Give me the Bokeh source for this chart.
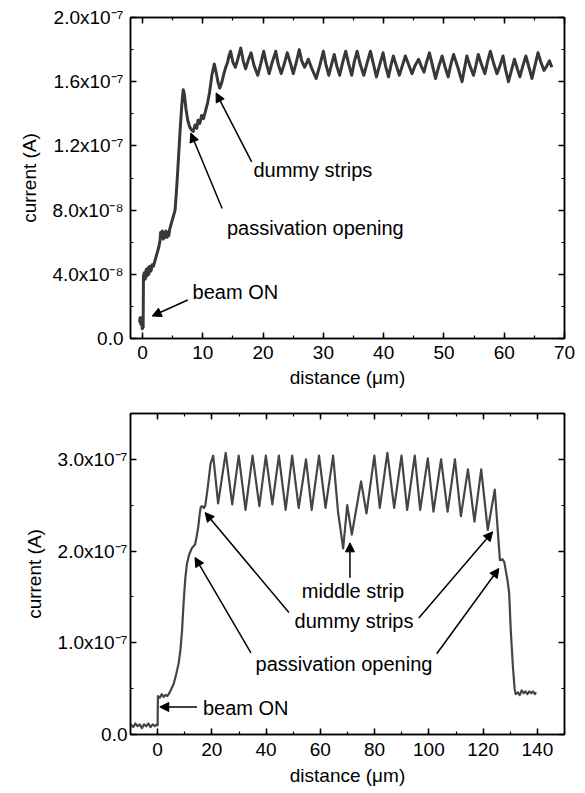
import numpy as np
from bokeh.plotting import figure
from bokeh.models import (Range1d, FixedTicker, LinearAxis, CustomJSTickFormatter,
                          Label, Arrow, NormalHead, ColumnDataSource)
from bokeh.layouts import column
from bokeh.embed import file_html
from bokeh.resources import INLINE

FONT = "Liberation Sans"

# ---------------- data (current in units of 1e-8 A) ----------------
top_x = [-0.5, -0.4, -0.3, -0.2, -0.1, -0.05, 0.1, 0.15, 0.3, 0.45, 0.6, 0.75, 0.9, 1.05, 1.2, 1.4,
         1.6, 1.8, 2.1, 2.4, 2.7, 2.9, 3.0, 3.15, 3.3, 3.45, 3.6, 3.75, 3.9, 4.05, 4.2, 4.35, 4.5,
         4.8, 5.1, 5.4, 5.7, 6.0, 6.2, 6.5, 6.75, 6.95, 7.2, 7.5, 7.8, 8.1, 8.4, 8.7, 9.0, 9.2,
         9.5, 9.8, 10.1, 10.4, 10.8, 11.1, 11.5, 11.9, 12.2, 12.5, 12.8, 13.1, 13.5, 13.8, 14.1,
         14.4, 14.6, 15.0, 15.4, 15.8, 16.3, 16.7, 17.1, 17.5, 18.0, 18.5, 19.1, 19.6, 20.1, 20.5,
         21.0, 21.5, 22.1, 22.5, 23.0, 23.5, 24.0, 24.5, 25.0, 25.5, 26.0, 26.4, 26.9, 27.5, 28.1,
         28.8, 29.4, 30.0, 30.4, 30.9, 31.3, 31.8, 32.2, 32.7, 33.2, 33.7, 34.2, 34.7, 35.1, 35.6,
         36.1, 36.7, 37.2, 37.8, 38.3, 38.8, 39.3, 39.9, 40.3, 40.8, 41.2, 41.6, 42.1, 42.6, 43.1,
         43.6, 44.1, 44.7, 45.2, 45.8, 46.2, 46.7, 47.1, 47.6, 48.1, 48.6, 49.1, 49.7, 50.2, 50.7,
         51.1, 51.6, 52.3, 53.0, 53.4, 53.8, 54.3, 54.9, 55.3, 55.7, 56.2, 56.8, 57.2, 57.7, 58.2,
         58.8, 59.3, 59.8, 60.2, 60.7, 61.2, 61.7, 62.1, 62.6, 63.1, 63.6, 64.1, 64.6, 65.1, 65.6,
         66.1, 66.6, 67.1, 67.5, 67.9]
top_i = [1.0, 1.3, 0.9, 1.3, 1.0, 0.6, 0.7, 3.9, 4.1, 3.7, 4.3, 3.9, 4.4, 4.0, 4.5, 4.2,
         4.6, 4.5, 4.9, 5.3, 5.7, 6.1, 6.6, 6.3, 6.7, 6.2, 6.6, 6.3, 6.7, 6.3, 6.6, 6.4, 6.8,
         7.2, 7.6, 8.0, 9.6, 11.5, 12.8, 14.5, 15.5, 15.2, 14.3, 13.6, 13.2, 13.0, 12.9, 13.3, 13.1, 13.6,
         13.4, 13.9, 13.7, 14.1, 14.7, 15.3, 16.4, 17.1, 16.6, 16.0, 15.6, 15.9, 16.5, 16.9, 17.2,
         17.7, 17.9, 17.2, 16.9, 17.4, 18.1, 17.3, 16.8, 17.3, 17.8, 17.0, 16.4, 17.1, 17.9, 17.2,
         16.5, 17.2, 17.9, 17.1, 16.5, 17.1, 17.8, 17.2, 16.5, 17.2, 18.0, 17.3, 16.9, 17.4, 16.8,
         16.2, 17.0, 17.9, 17.1, 16.4, 17.0, 17.7, 17.0, 16.4, 17.2, 17.9, 17.1, 16.4, 17.2, 17.9,
         17.1, 16.4, 17.1, 17.9, 17.1, 16.3, 17.0, 17.8, 17.0, 16.3, 17.0, 17.6, 17.0, 16.4, 17.0,
         17.6, 17.1, 16.5, 17.0, 17.4, 17.0, 16.6, 17.2, 17.8, 17.0, 16.2, 16.9, 17.6, 16.9, 16.3,
         17.0, 17.7, 16.9, 16.0, 16.8, 17.6, 17.0, 16.4, 17.0, 17.7, 17.1, 16.5, 17.2, 17.9, 17.2,
         16.5, 17.0, 17.6, 16.8, 16.0, 16.7, 17.4, 16.9, 16.3, 17.0, 17.6, 16.9, 16.2, 17.0, 17.8,
         17.2, 16.7, 17.0, 17.3, 16.9]

bot_x = [-9.8, -9.0, -8.2, -7.4, -6.6, -5.8, -5.0, -4.2, -3.4, -2.6, -1.8, -1.0, -0.3, 0.0, 0.1,
         0.8, 1.5, 2.2, 2.9, 3.6, 4.3, 5.1, 5.9, 6.8, 7.7, 8.4, 9.0, 9.6, 10.2, 10.8, 11.6, 12.6,
         13.4, 13.8, 14.4, 15.0, 15.5, 15.9, 16.4, 17.1, 17.6, 18.5, 19.5, 20.5,
         22.3, 25.1, 27.5, 29.9, 32.4, 35.0, 37.5, 39.9, 42.3, 44.7, 47.2, 49.6, 52.0, 54.7, 56.8,
         59.5, 61.9, 64.7, 66.5, 68.4, 69.9, 71.6, 75.0, 77.0, 79.9, 81.9, 84.7, 87.2, 89.9, 92.0,
         94.8, 96.8, 99.6, 101.7, 104.5, 106.9, 109.6, 111.8, 114.4, 116.8, 119.3, 121.7, 124.3,
         126.2, 127.2, 127.8, 129.0, 129.6, 130.2, 131.0, 131.6, 132.0, 132.8, 133.5, 134.2, 134.9,
         135.6, 136.3, 137.0, 137.7, 138.4, 139.1, 139.5]
bot_i = [1.1, 0.8, 1.2, 0.9, 1.1, 0.7, 1.1, 0.9, 1.2, 0.8, 1.1, 0.9, 1.1, 1.0, 4.2,
         4.0, 4.4, 4.1, 4.3, 4.2, 4.5, 5.0, 5.5, 6.5, 7.7, 9.2, 11.3, 14.5, 17.0, 18.6, 19.6, 20.3,
         20.6, 20.7, 21.6, 22.7, 24.0, 24.8, 24.9, 24.7, 25.0, 27.0, 29.5, 30.4,
         25.2, 30.7, 25.1, 30.4, 24.5, 30.4, 24.9, 30.4, 25.1, 30.4, 24.5, 30.4, 24.7, 30.0, 24.5,
         30.4, 24.7, 30.4, 24.3, 20.3, 25.0, 21.8, 27.6, 24.1, 30.4, 24.7, 30.7, 24.7, 30.4, 24.5,
         30.4, 24.5, 30.1, 24.3, 30.0, 24.3, 30.0, 23.8, 28.9, 23.2, 28.9, 22.3, 26.7,
         19.0, 19.1, 18.8, 16.8, 15.4, 11.3, 7.3, 5.0, 4.4, 4.6, 4.3, 4.8, 4.5,
         4.7, 4.4, 4.7, 4.5, 4.7, 4.4, 4.6]

top_xticks = [0, 10, 20, 30, 40, 50, 60, 70]
top_xminor = [-5, 0, 5, 10, 15, 20, 25, 30, 35, 40, 45, 50, 55, 60, 65, 70]
top_yticks = [0.0, 4e-8, 8e-8, 1.2e-7, 1.6e-7, 2.0e-7]
top_yminor = [0.0, 2e-8, 4e-8, 6e-8, 8e-8, 1e-7, 1.2e-7, 1.4e-7, 1.6e-7, 1.8e-7, 2.0e-7]

bot_xticks = [0, 20, 40, 60, 80, 100, 120, 140]
bot_xminor = [-10, 0, 10, 20, 30, 40, 50, 60, 70, 80, 90, 100, 110, 120, 130, 140, 150]
bot_yticks = [0.0, 1e-7, 2e-7, 3e-7]
bot_yminor = [0.0, 5e-8, 1e-7, 1.5e-7, 2e-7, 2.5e-7, 3e-7, 3.5e-7]

SCALE = 1e-8

fmt_code = """
if (Math.abs(tick) < 1e-15) { return "0.0"; }
const e = Math.floor(Math.log10(Math.abs(tick)) + 1e-6);
const m = tick / Math.pow(10, e);
const sup = {"-":"\u207b","0":"\u2070","1":"\u00b9","2":"\u00b2","3":"\u00b3","4":"\u2074",
             "5":"\u2075","6":"\u2076","7":"\u2077","8":"\u2078","9":"\u2079"};
let s = "";
for (const c of String(e)) { s += sup[c]; }
return m.toFixed(1) + "x10" + s;
"""


def make_panel(width, height, xr, yr, xs, ys, xt, xm, yt, ym, borders, lw, color,
               ylab_standoff, ytick_standoff, xtick_standoff, xlab_standoff):
    p = figure(width=width, height=height, x_range=Range1d(*xr), y_range=Range1d(*yr),
               output_backend="svg", toolbar_location=None,
               min_border_left=borders[0], min_border_right=borders[1],
               min_border_top=borders[2], min_border_bottom=borders[3])
    p.xgrid.visible = False
    p.ygrid.visible = False
    p.outline_line_color = "black"
    p.outline_line_width = 1.5
    p.background_fill_color = "white"
    p.border_fill_color = "white"

    src = ColumnDataSource(dict(x=xs, y=list(np.array(ys) * SCALE)))
    p.line("x", "y", source=src, line_color=color, line_width=lw, line_join="round")

    xtick = FixedTicker(ticks=xt, minor_ticks=xm)
    ytick = FixedTicker(ticks=yt, minor_ticks=ym)
    yfmt = CustomJSTickFormatter(code=fmt_code)

    for ax in (p.xaxis[0], p.yaxis[0]):
        ax.axis_line_width = 1.5
        ax.axis_line_color = "black"
        ax.major_tick_in = 6
        ax.major_tick_out = 0
        ax.minor_tick_in = 3
        ax.minor_tick_out = 0
        ax.major_tick_line_width = 1.5
        ax.minor_tick_line_width = 1.2
        ax.major_label_text_font = FONT
        ax.major_label_text_font_size = "19px"
        ax.major_label_text_color = "black"
        ax.axis_label_text_font = FONT
        ax.axis_label_text_font_size = "19px"
        ax.axis_label_text_font_style = "normal"
        ax.axis_label_text_color = "black"

    p.xaxis[0].ticker = xtick
    p.xaxis[0].axis_label = "distance (\u03bcm)"
    p.xaxis[0].major_label_standoff = xtick_standoff
    p.xaxis[0].axis_label_standoff = xlab_standoff

    p.yaxis[0].ticker = ytick
    p.yaxis[0].formatter = yfmt
    p.yaxis[0].axis_label = "current (A)"
    p.yaxis[0].major_label_standoff = ytick_standoff
    p.yaxis[0].axis_label_standoff = ylab_standoff

    for loc, tk in (("above", xtick), ("right", ytick)):
        ax = LinearAxis(ticker=tk, major_label_text_font_size="0px", major_label_standoff=0,
                        major_label_text_color=None,
                        axis_line_width=1.5, major_tick_in=6, major_tick_out=0,
                        minor_tick_in=3, minor_tick_out=0, major_tick_line_width=1.5,
                        minor_tick_line_width=1.2)
        p.add_layout(ax, loc)
    return p


p1 = make_panel(585, 400, (-2, 70), (0, 2.0e-7), top_x, top_i, top_xticks, top_xminor,
                top_yticks, top_yminor, (125, 21, 17, 62), 3.0, "#383838", 9, 7, 7, 5)
p2 = make_panel(585, 393, (-10, 150), (0, 3.5e-7), bot_x, bot_i, bot_xticks, bot_xminor,
                bot_yticks, bot_yminor, (130, 17, 13, 59), 2.2, "#454545", 10, 3, 8, 6)

head = lambda: NormalHead(size=9, fill_color="black", line_color="black", line_width=1)


def note(p, x, y, text, align="left"):
    p.add_layout(Label(x=x, y=y * SCALE, text=text, text_font=FONT, text_font_size="20px",
                       text_color="black", text_baseline="middle", text_align=align))


def arrow(p, x0, y0, x1, y1):
    p.add_layout(Arrow(end=head(), x_start=x0, y_start=y0 * SCALE, x_end=x1, y_end=y1 * SCALE,
                       line_width=1.5, line_color="black"))


# top annotations
note(p1, 8.3, 2.9, "beam ON")
arrow(p1, 7.5, 2.4, 1.6, 1.4)
note(p1, 14.0, 6.9, "passivation opening")
arrow(p1, 13.2, 8.1, 8.0, 12.8)
note(p1, 18.4, 10.5, "dummy strips")
arrow(p1, 18.1, 11.0, 12.2, 15.3)

# bottom annotations
note(p2, 16.7, 2.9, "beam ON")
arrow(p2, 14.5, 3.0, 0.8, 3.0)
note(p2, 72.0, 15.7, "middle strip", "center")
arrow(p2, 70.9, 17.1, 70.9, 20.9)
note(p2, 72.4, 12.4, "dummy strips", "center")
arrow(p2, 48.4, 13.3, 17.5, 24.2)
arrow(p2, 96.3, 12.7, 123.5, 22.1)
note(p2, 68.7, 7.7, "passivation opening", "center")
arrow(p2, 34.4, 8.9, 13.8, 19.3)
arrow(p2, 102.9, 8.8, 125.8, 18.1)

layout = column(p1, p2, spacing=0)
open("out.html", "w").write(file_html(layout, INLINE))
